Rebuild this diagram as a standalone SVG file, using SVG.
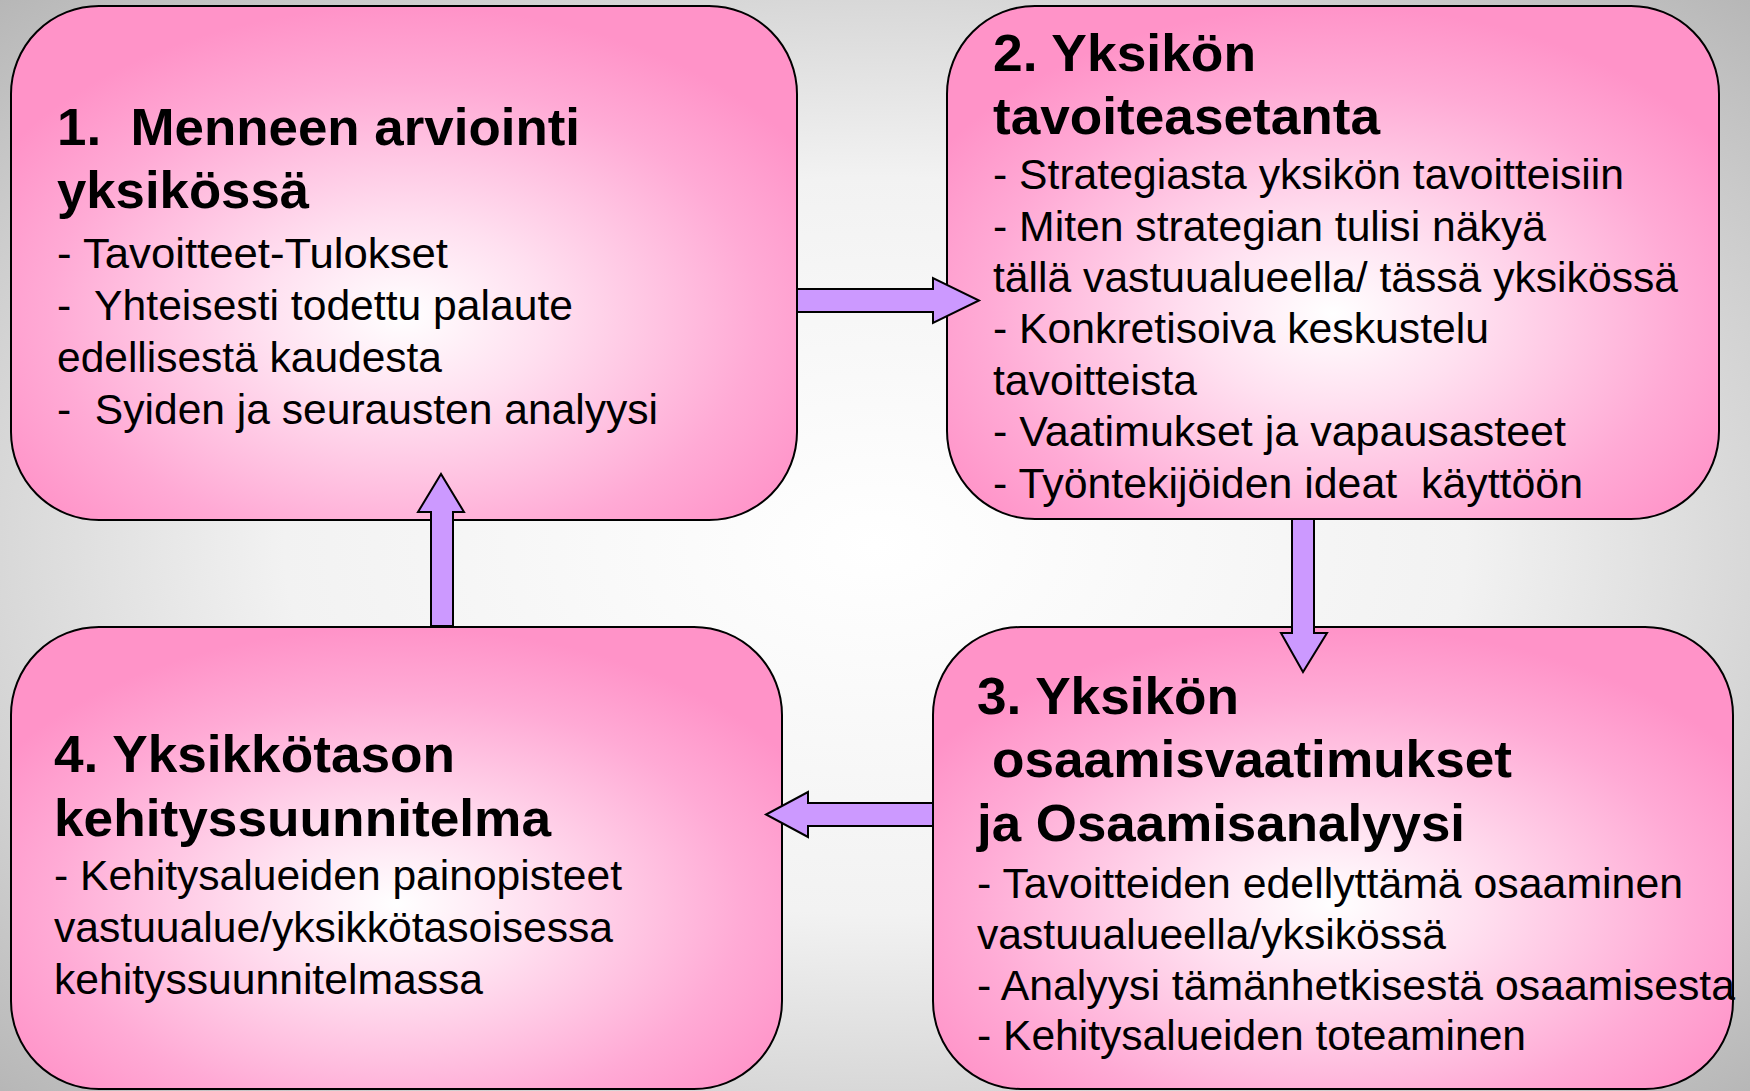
<svg xmlns="http://www.w3.org/2000/svg" width="1750" height="1091" viewBox="0 0 1750 1091">
<defs>
<radialGradient id="bg" cx="0.5" cy="0.5" r="0.75">
<stop offset="0" stop-color="#ffffff"/>
<stop offset="0.45" stop-color="#f2f2f2"/>
<stop offset="1" stop-color="#b0b0b0"/>
</radialGradient>
<radialGradient id="pink" cx="0.5" cy="0.6" r="0.6">
<stop offset="0" stop-color="#ffffff"/>
<stop offset="0.3" stop-color="#ffe0f0"/>
<stop offset="0.75" stop-color="#ffaad5"/>
<stop offset="1" stop-color="#ff93c8"/>
</radialGradient>
<style>
.box{fill:url(#pink);stroke:#000;stroke-width:2}
.arr{fill:#cc99ff;stroke:#000;stroke-width:2;stroke-linejoin:miter}
.t{font-family:"Liberation Sans",Arial,sans-serif;font-weight:bold;font-size:52px;fill:#000}
.b{font-family:"Liberation Sans",Arial,sans-serif;font-size:43px;fill:#000}
</style>
</defs>
<rect x="0" y="0" width="1750" height="1091" fill="url(#bg)"/>

<g id="node1">
<rect class="box" x="11" y="6" width="786" height="514" rx="88" ry="88"/>
<text class="t" x="57" y="145" textLength="523" lengthAdjust="spacingAndGlyphs" xml:space="preserve">1.  Menneen arviointi</text>
<text class="t" x="57" y="208" textLength="252" lengthAdjust="spacingAndGlyphs">yksikössä</text>
<text class="b" x="57" y="268" textLength="391" lengthAdjust="spacingAndGlyphs">- Tavoitteet-Tulokset</text>
<text class="b" x="57" y="320" textLength="516" lengthAdjust="spacingAndGlyphs" xml:space="preserve">-  Yhteisesti todettu palaute</text>
<text class="b" x="57" y="372" textLength="385" lengthAdjust="spacingAndGlyphs">edellisestä kaudesta</text>
<text class="b" x="57" y="424" textLength="601" lengthAdjust="spacingAndGlyphs" xml:space="preserve">-  Syiden ja seurausten analyysi</text>
</g>

<g id="node2">
<rect class="box" x="947" y="6" width="772" height="513" rx="88" ry="88"/>
<text class="t" x="993" y="71" textLength="263" lengthAdjust="spacingAndGlyphs">2. Yksikön</text>
<text class="t" x="993" y="134" textLength="387" lengthAdjust="spacingAndGlyphs">tavoiteasetanta</text>
<text class="b" x="993" y="189" textLength="631" lengthAdjust="spacingAndGlyphs">- Strategiasta yksikön tavoitteisiin</text>
<text class="b" x="993" y="241" textLength="553" lengthAdjust="spacingAndGlyphs">- Miten strategian tulisi näkyä</text>
<text class="b" x="993" y="292" textLength="685" lengthAdjust="spacingAndGlyphs">tällä vastuualueella/ tässä yksikössä</text>
<text class="b" x="993" y="343" textLength="496" lengthAdjust="spacingAndGlyphs">- Konkretisoiva keskustelu</text>
<text class="b" x="993" y="395" textLength="204" lengthAdjust="spacingAndGlyphs">tavoitteista</text>
<text class="b" x="993" y="446" textLength="573" lengthAdjust="spacingAndGlyphs">- Vaatimukset ja vapausasteet</text>
<text class="b" x="993" y="498" textLength="590" lengthAdjust="spacingAndGlyphs" xml:space="preserve">- Työntekijöiden ideat  käyttöön</text>
</g>

<g id="node3">
<rect class="box" x="933" y="627" width="800" height="462" rx="88" ry="88"/>
<text class="t" x="977" y="714" textLength="262" lengthAdjust="spacingAndGlyphs">3. Yksikön</text>
<text class="t" x="992" y="777" textLength="520" lengthAdjust="spacingAndGlyphs">osaamisvaatimukset</text>
<text class="t" x="977" y="841" textLength="488" lengthAdjust="spacingAndGlyphs">ja Osaamisanalyysi</text>
<text class="b" x="977" y="898" textLength="706" lengthAdjust="spacingAndGlyphs">- Tavoitteiden edellyttämä osaaminen</text>
<text class="b" x="977" y="949" textLength="469" lengthAdjust="spacingAndGlyphs">vastuualueella/yksikössä</text>
<text class="b" x="977" y="1000" textLength="758" lengthAdjust="spacingAndGlyphs">- Analyysi tämänhetkisestä osaamisesta</text>
<text class="b" x="977" y="1050" textLength="549" lengthAdjust="spacingAndGlyphs">- Kehitysalueiden toteaminen</text>
</g>

<g id="node4">
<rect class="box" x="11" y="627" width="771" height="462" rx="88" ry="88"/>
<text class="t" x="54" y="772" textLength="401" lengthAdjust="spacingAndGlyphs">4. Yksikkötason</text>
<text class="t" x="54" y="836" textLength="497" lengthAdjust="spacingAndGlyphs">kehityssuunnitelma</text>
<text class="b" x="54" y="890" textLength="568" lengthAdjust="spacingAndGlyphs">- Kehitysalueiden painopisteet</text>
<text class="b" x="54" y="942" textLength="559" lengthAdjust="spacingAndGlyphs">vastuualue/yksikkötasoisessa</text>
<text class="b" x="54" y="994" textLength="429" lengthAdjust="spacingAndGlyphs">kehityssuunnitelmassa</text>
</g>

<g id="connectors">
<polygon class="arr" points="797,289 933,289 933,278 979,300.5 933,323 933,312 797,312"/>
<polygon class="arr" points="1292,519 1292,633 1281,633 1303,672 1327,633 1314,633 1314,519"/>
<polygon class="arr" points="933,803 808,803 808,792 766,814.5 808,837 808,826 933,826"/>
<polygon class="arr" points="431,626 431,512 418,512 441,474 464,512 453,512 453,626"/>
</g>
</svg>
